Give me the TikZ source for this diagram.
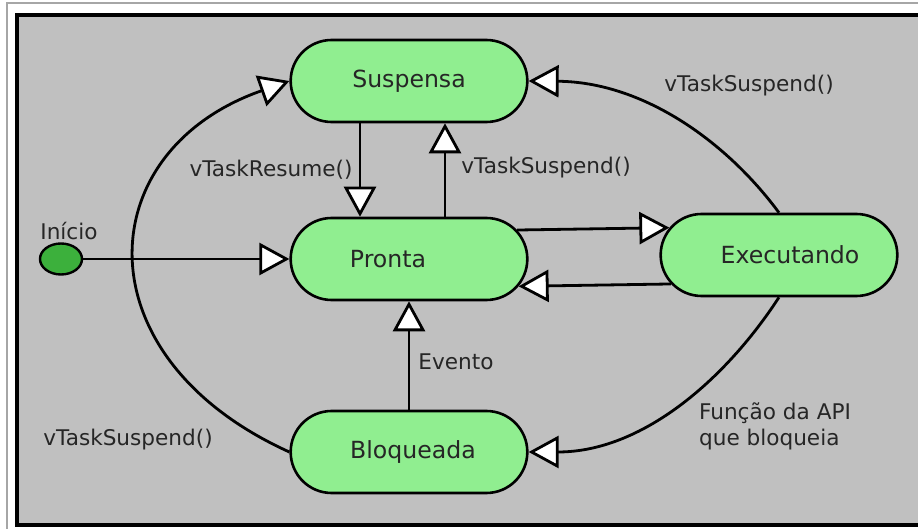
\documentclass[tikz,border=0pt]{standalone}
\usepackage{fontspec}
\setmainfont{DejaVu Sans}
\usepackage{xcolor}
\usepackage{tikz}
\usetikzlibrary{arrows.meta,shapes.misc,shapes.geometric,positioning}
\tikzset{>={Triangle[length=15pt,width=16pt,fill=white]}}

\definecolor{verdeestado}{HTML}{90EE90}
\definecolor{verdeinicio}{HTML}{3CB03C}
\definecolor{fundo}{HTML}{C0C0C0}

\begin{document}
\begin{tikzpicture}[x=0.5pt, y=-0.5pt,
                    estado/.style={rounded rectangle, draw=black, line width=1.3pt, fill=verdeestado,
                                   minimum width=125pt, minimum height=41pt,
                                   font=\fontsize{11.8}{13}\selectfont, text=black!85},
                    inicio/.style={ellipse, draw=black, line width=1.2pt, fill=verdeinicio,
                                   minimum width=21pt, minimum height=15.5pt, inner sep=0pt},
                    trans/.style={line width=1.4pt, black, ->},
                    rotulo/.style={font=\fontsize{10.8}{13}\selectfont, text=black!85, inner sep=0pt},
                   ]

\clip (0,0) rectangle (918,529);

% moldura
\draw[gray!70, line width=0.6pt] (7,529) -- (7,3) -- (918,3);
\draw[fill=fundo, line width=2pt] (17,15) rectangle (940,525);

% estados
\node[estado] (susp) at (409,81) {Suspensa};
\node[estado] (pron) at (409,259) {Pronta\hspace*{21pt}};
\node[estado] (exec) at (779,255) {\hspace*{11pt}Executando};
\node[estado] (bloq) at (409,452) {\hspace*{4pt}Bloqueada};
\node[inicio] (inic) at (61,259) {};

% transicoes
\draw[trans] (inic.east) -- (pron.west);
\draw[trans] ([xshift=-24.5pt]susp.south) -- ([xshift=-24.5pt]pron.north);
\draw[trans] ([xshift=18pt]pron.north) -- ([xshift=18pt]susp.south);
\draw[trans] (pron.15) -- (exec.166);
\draw[trans] (exec.195) -- (pron.346);
\draw[trans] (bloq.north) -- (pron.south);
\draw[trans] (exec.north) .. controls +(-54,-73) and +(113,1) .. (susp.east);
\draw[trans] (exec.south) .. controls +(-54,83) and +(113,0) .. (bloq.east);
\draw[trans] (bloq.west) .. controls +(-210,-95) and +(-200,70) .. (susp.west);

% rotulos
\node[rotulo] (lbinicio) at (69,231) {Início};
\node[rotulo] (lbresume) at (271,170) {vTaskResume()};
\node[rotulo] (lbsuspA) at (546,168) {vTaskSuspend()};
\node[rotulo] (lbsuspB) at (749,86) {vTaskSuspend()};
\node[rotulo] (lbsuspC) at (128,440) {vTaskSuspend()};
\node[rotulo] (lbevento) at (456,362) {Evento};
\node[rotulo, align=left] (lbapi) at (775,426) {Função da API\\que bloqueia};

\end{tikzpicture}
\end{document}
